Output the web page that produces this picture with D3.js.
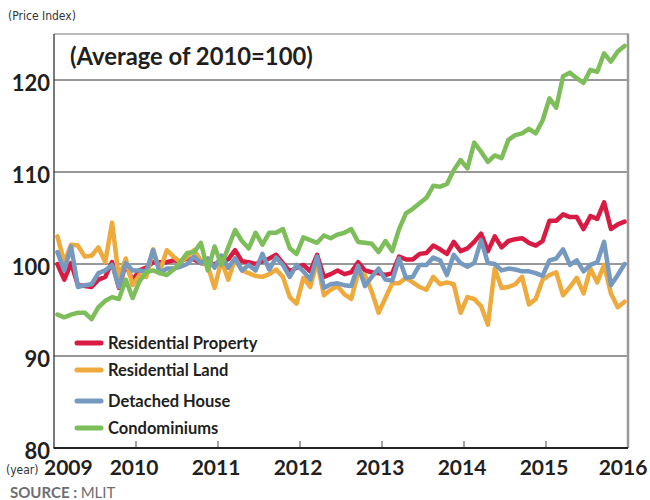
<!DOCTYPE html>
<html><head><meta charset="utf-8">
<script src="https://cdn.jsdelivr.net/npm/d3@7"></script>
<style>body{margin:0;background:#fff}svg{display:block}</style>
</head><body><svg id="c" width="650" height="500"></svg>
<script>
const years = [2009, 2010, 2011, 2012, 2013, 2014, 2015, 2016];
const yTicks = [80, 90, 100, 110, 120];
const seriesNames = ["Residential Property", "Residential Land", "Detached House", "Condominiums"];
const seriesColors = ["#d81b43", "#eeaa3c", "#7699c0", "#7dbd5a"];

const residentialProperty = [
  100.0, 98.3, 100.1, 97.7, 97.6, 97.5, 98.3, 98.6, 100.2, 97.4, 100.0, 98.2,
  99.3, 99.6, 100.2, 100.2, 100.2, 100.4, 100.3, 100.6, 100.5, 100.1, 100.0, 100.0,
  100.3, 100.5, 101.5, 100.3, 100.2, 100.0, 100.3, 100.6, 101.0, 100.1, 99.2, 99.6,
  99.9, 99.2, 101.0, 98.6, 98.9, 99.3, 98.9, 99.1, 100.2, 99.3, 99.1, 99.0,
  98.8, 99.0, 100.8, 100.5, 100.5, 101.1, 101.2, 102.0, 101.6, 101.1, 102.4, 101.4,
  101.7, 102.4, 103.3, 101.4, 103.0, 101.8, 102.5, 102.7, 102.8, 102.3, 102.0, 102.5,
  104.7, 104.7, 105.4, 105.1, 105.1, 103.8, 105.2, 104.9, 106.7, 103.8, 104.3, 104.6
];
const residentialLand = [
  103.0, 100.2, 102.1, 102.0, 100.8, 100.9, 101.8, 100.2, 104.5, 98.5, 100.6, 97.7,
  98.8, 98.6, 101.6, 99.2, 101.5, 100.8, 100.2, 100.8, 101.5, 100.4, 99.8, 97.4,
  100.4, 98.3, 100.6, 99.3, 99.0, 98.7, 98.6, 98.9, 99.4, 98.6, 96.4, 95.7,
  98.5, 97.5, 100.3, 96.6, 97.2, 97.6, 96.7, 96.2, 99.0, 98.8, 97.0, 94.7,
  96.3, 97.9, 97.9, 98.5, 98.0, 97.5, 97.2, 98.6, 97.8, 98.0, 97.8, 94.7,
  96.4, 96.2, 95.4, 93.4, 99.5, 97.4, 97.5, 97.8, 98.6, 95.6, 96.2, 98.3,
  98.8, 99.1, 96.6, 97.5, 98.5, 96.8, 99.5, 98.0, 99.9, 96.8, 95.3, 95.9
];
const detachedHouse = [
  101.3, 99.3, 101.9, 97.5, 97.7, 97.8, 99.0, 99.3, 99.9, 97.5, 100.1, 99.3,
  99.3, 99.2, 101.5, 99.0, 99.5, 99.5, 99.7, 100.0, 100.8, 100.1, 100.6, 99.6,
  100.9, 99.6, 100.6, 99.3, 99.9, 99.3, 101.1, 99.4, 100.7, 99.9, 98.6, 99.9,
  99.2, 98.3, 100.8, 97.4, 97.8, 97.9, 97.7, 97.6, 99.8, 97.6, 98.6, 99.5,
  98.3, 98.2, 100.6, 98.5, 98.6, 99.9, 99.9, 100.7, 100.4, 98.8, 101.0, 100.1,
  99.7, 100.1, 102.6, 100.1, 100.0, 99.3, 99.5, 99.4, 99.2, 99.2, 99.0, 98.7,
  100.4, 100.6, 101.6, 99.9, 100.4, 99.2, 99.9, 100.2, 102.4, 97.7, 98.8, 100.0
];
const condominiums = [
  94.5, 94.2, 94.5, 94.7, 94.7, 94.0, 95.3, 96.0, 96.4, 96.2, 98.3, 96.3,
  98.1, 99.1, 99.3, 99.0, 98.8, 99.4, 100.2, 101.2, 101.3, 102.3, 99.3, 101.9,
  99.9, 101.8, 103.7, 102.5, 101.7, 103.4, 102.1, 103.4, 103.4, 103.8, 101.7, 101.1,
  102.9, 102.6, 102.3, 103.1, 102.8, 103.2, 103.4, 103.8, 102.4, 102.3, 102.2, 101.3,
  102.5, 101.4, 103.8, 105.5, 106.0, 106.6, 107.2, 108.5, 108.4, 108.7, 110.2, 111.3,
  110.4, 113.2, 112.2, 111.1, 111.8, 111.5, 113.5, 114.0, 114.2, 114.7, 114.2, 115.6,
  118.0, 117.0, 120.4, 120.8, 120.2, 119.7, 121.1, 120.9, 122.9, 122.0, 123.1, 123.7
];
const allSeries = [residentialProperty, residentialLand, detachedHouse, condominiums];

const BOLD = "Lato, 'DejaVu Sans', sans-serif";
const COND = "'Liberation Sans Narrow', 'DejaVu Sans Condensed', 'DejaVu Sans', sans-serif";

const svg = d3.select("#c");
const L = 54, R = 628, T = 34, B = 448;
const x = d3.scaleLinear().domain([2009, 2016]).range([L, R]);
const y = d3.scaleLinear().domain([80, 125]).range([B, T]);

// gridlines
svg.append("g").selectAll("line").data(yTicks.filter(v => v > 80)).join("line")
  .attr("x1", L).attr("x2", R).attr("y1", d => y(d)).attr("y2", d => y(d))
  .attr("stroke", "#333").attr("stroke-width", 1);

// frame
svg.append("line").attr("x1", L).attr("x2", R).attr("y1", T).attr("y2", T).attr("stroke", "#777").attr("stroke-width", 1.2);
svg.append("line").attr("x1", R).attr("x2", R).attr("y1", T - 0.5).attr("y2", B).attr("stroke", "#999").attr("stroke-width", 2.5);
svg.append("line").attr("x1", L).attr("x2", L).attr("y1", T).attr("y2", B).attr("stroke", "#222").attr("stroke-width", 1.2);

// bottom ticks
svg.append("g").selectAll("line").data(years.slice(1, -1)).join("line")
  .attr("x1", d => x(d)).attr("x2", d => x(d)).attr("y1", B - 7).attr("y2", B)
  .attr("stroke", "#666").attr("stroke-width", 1.2);

// series lines
const line = d3.line().x((d, i) => x(2009 + (i + 0.5) / 12)).y(d => y(d)).curve(d3.curveLinear);
allSeries.forEach((s, k) => {
  svg.append("path").datum(s).attr("d", line).attr("fill", "none")
    .attr("stroke", seriesColors[k]).attr("stroke-width", 4.5)
    .attr("stroke-linejoin", "round").attr("stroke-linecap", "round");
});

svg.append("line").attr("x1", L - 0.5).attr("x2", R).attr("y1", B).attr("y2", B).attr("stroke", "#222").attr("stroke-width", 2);

// y labels
svg.append("g").selectAll("text").data(yTicks).join("text")
  .attr("x", 50).attr("y", d => y(d) + 11).attr("text-anchor", "end")
  .attr("font-family", BOLD).attr("font-weight", "bold").attr("font-size", 22).attr("fill", "#231f20")
  .text(d => d);

// x labels
svg.append("g").selectAll("text").data(years).join("text")
  .attr("x", d => d === 2009 ? 44 : d === 2016 ? 623 : x(d) - 2)
  .attr("y", 475)
  .attr("text-anchor", d => d === 2009 ? "start" : "middle")
  .attr("font-family", BOLD).attr("font-weight", "bold").attr("font-size", 21).attr("fill", "#231f20")
  .text(d => d);

svg.append("text").attr("x", 6).attr("y", 474).attr("font-family", COND).attr("font-size", 12).attr("fill", "#333").text("(year)");
svg.append("text").attr("x", 8).attr("y", 20).attr("font-family", COND).attr("font-size", 12).attr("fill", "#333").text("(Price Index)");

svg.append("text").attr("x", 70).attr("y", 65).attr("font-family", BOLD).attr("font-weight", "bold").attr("font-size", 23.8).attr("fill", "#231f20").text("(Average of 2010=100)");

const src = svg.append("text").attr("x", 10).attr("y", 498).attr("font-family", BOLD).attr("font-size", 15).attr("fill", "#6d6e71");
src.append("tspan").attr("font-weight", "bold").text("SOURCE : ");
src.append("tspan").text("MLIT");

// legend
const legY = [343, 370, 401, 428];
const leg = svg.append("g").selectAll("g").data(seriesNames).join("g")
  .attr("transform", (d, i) => `translate(0,${legY[i]})`);
leg.append("line").attr("x1", 77).attr("x2", 101).attr("y1", 0).attr("y2", 0)
  .attr("stroke", (d, i) => seriesColors[i]).attr("stroke-width", 5).attr("stroke-linecap", "round");
leg.append("text").attr("x", 108).attr("y", 6).attr("font-family", BOLD).attr("font-weight", "bold")
  .attr("font-size", 16.5).attr("fill", "#231f20").text(d => d);
</script></body></html>
